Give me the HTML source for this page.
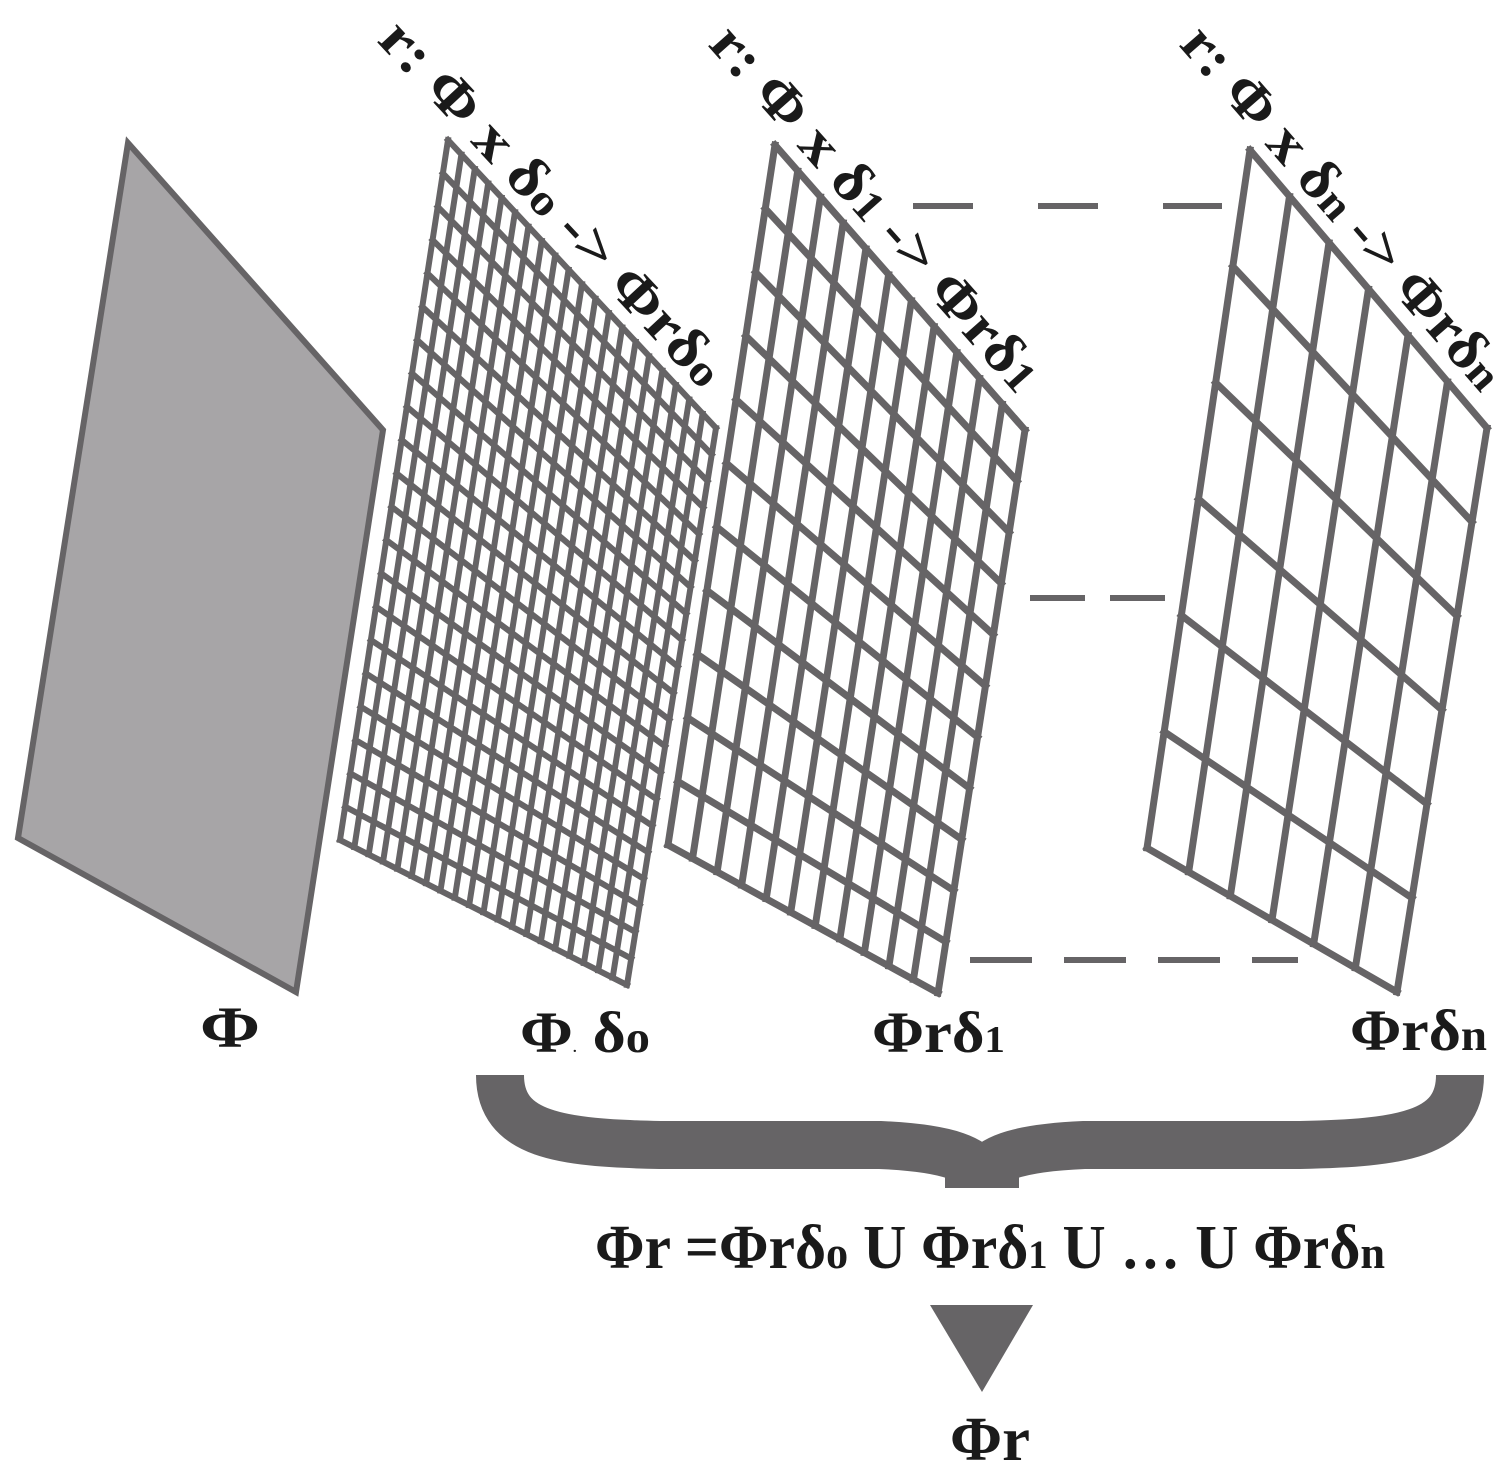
<!DOCTYPE html>
<html><head><meta charset="utf-8"><style>
html,body{margin:0;padding:0;background:#fff;}
svg{display:block}
text{font-family:"Liberation Serif",serif;font-weight:bold;fill:#1a1a1a}
</style></head><body>
<svg id="s" width="1510" height="1480" viewBox="0 0 1510 1480" xmlns="http://www.w3.org/2000/svg">
<polygon points="128,143 383,430 296,992 18,838" fill="#a7a5a7" stroke="#666466" stroke-width="6" stroke-linejoin="miter"/>
<g id="grids" fill="none" stroke="#666466"></g>
<g stroke="#666466" stroke-width="6" fill="none">
<line x1="913" y1="206" x2="1222" y2="206" stroke-dasharray="60,65"/>
<line x1="1030" y1="598" x2="1165" y2="598" stroke-dasharray="55,25"/>
<line x1="970" y1="960" x2="1298" y2="960" stroke-dasharray="62,32"/>
</g>
<g fill="none" stroke="#666466" stroke-width="48" stroke-linecap="butt">
<path d="M500,1075 C500,1135 560,1143 660,1145 L880,1145 C950,1148 978,1160 982,1178"/>
<path d="M982,1178 C986,1160 1014,1148 1084,1145 L1300,1145 C1400,1143 1460,1135 1460,1075"/>
</g>
<rect x="945" y="1150" width="74" height="38" fill="#666466"/>
<polygon points="930,1305 1033,1305 982,1392" fill="#666466"/>
<text x="376" y="41" font-size="58" transform="rotate(47 376 41)" textLength="478" lengthAdjust="spacingAndGlyphs">r: Φ x δ<tspan font-size="44">o</tspan> -&gt; Φrδ<tspan font-size="44">o</tspan></text>
<text x="707" y="45" font-size="58" transform="rotate(48.5 707 45)" textLength="468" lengthAdjust="spacingAndGlyphs">r: Φ x δ<tspan font-size="44">1</tspan> -&gt; Φrδ<tspan font-size="44">1</tspan></text>
<text x="1178" y="45" font-size="58" transform="rotate(49 1178 45)" textLength="462" lengthAdjust="spacingAndGlyphs">r: Φ x δ<tspan font-size="44">n</tspan> -&gt; Φrδ<tspan font-size="44">n</tspan></text>
<text x="200" y="1047" font-size="58" textLength="60" lengthAdjust="spacingAndGlyphs">Φ</text>
<text x="520" y="1052" font-size="58" textLength="130" lengthAdjust="spacingAndGlyphs">Φ<tspan font-size="14">.</tspan> δ<tspan font-size="44">o</tspan></text>
<text x="872" y="1052" font-size="58" textLength="133" lengthAdjust="spacingAndGlyphs">Φrδ<tspan font-size="38">1</tspan></text>
<text x="1350" y="1050" font-size="58" textLength="137" lengthAdjust="spacingAndGlyphs">Φrδ<tspan font-size="44">n</tspan></text>
<text x="595" y="1268" font-size="62" textLength="790" lengthAdjust="spacingAndGlyphs">Φr =Φrδ<tspan font-size="46">o</tspan> U Φrδ<tspan font-size="40">1</tspan> U … U Φrδ<tspan font-size="46">n</tspan></text>
<text x="950" y="1460" font-size="62" textLength="80" lengthAdjust="spacingAndGlyphs">Φr</text>
</svg>
<script>
(function(){
var g=document.getElementById('grids');
function L(a,b,t){return [a[0]+(b[0]-a[0])*t,a[1]+(b[1]-a[1])*t];}
function grid(TL,TR,BR,BL,cols,rows,w){
  var d='';
  for(var i=0;i<=cols;i++){var t=i/cols,p=L(TL,TR,t),q=L(BL,BR,t);d+='M'+p[0]+','+p[1]+'L'+q[0]+','+q[1];}
  for(var j=0;j<=rows;j++){var t=j/rows,p=L(TL,BL,t),q=L(TR,BR,t);d+='M'+p[0]+','+p[1]+'L'+q[0]+','+q[1];}
  var e=document.createElementNS('http://www.w3.org/2000/svg','path');
  e.setAttribute('d',d);e.setAttribute('stroke-width',w);e.setAttribute('stroke-linecap','square');
  g.appendChild(e);
}
grid([448,140],[716,428],[627,985],[340,840],20,21,6);
grid([775,145],[1025,430],[938,993],[668,845],11,11,7);
grid([1250,150],[1487,428],[1397,992],[1147,848],6,6,7);
})();
</script>
</body></html>
